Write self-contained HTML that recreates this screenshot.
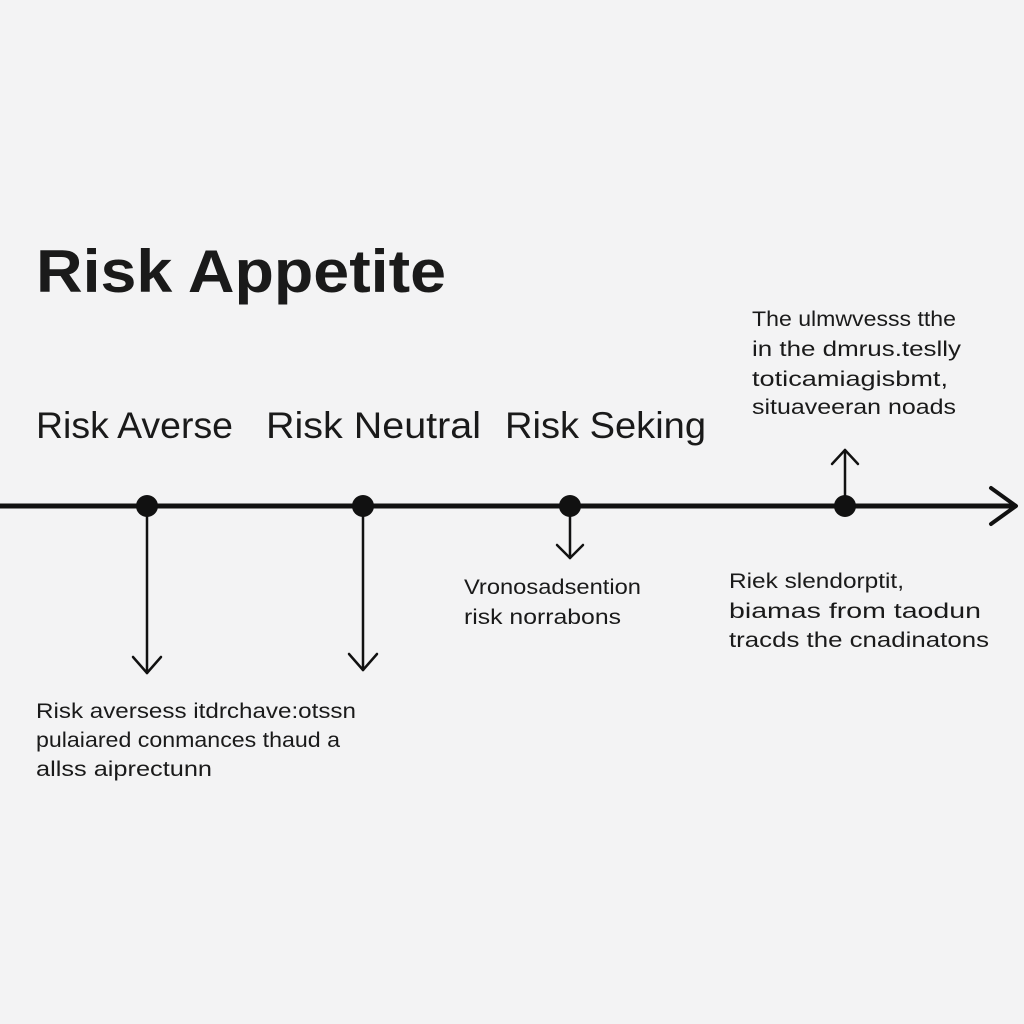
<!DOCTYPE html>
<html><head><meta charset="utf-8"><style>
body{margin:0;width:1024px;height:1024px;background:#f3f3f4;overflow:hidden}
svg{display:block}
text{font-family:"Liberation Sans",sans-serif;fill:#1a1a1a}
</style></head><body>
<svg width="1024" height="1024" viewBox="0 0 1024 1024">
<text x="36" y="292" font-size="60" font-weight="bold" fill="#111" textLength="410" lengthAdjust="spacingAndGlyphs">Risk Appetite</text>
<text x="36" y="438" font-size="37" textLength="197" lengthAdjust="spacingAndGlyphs">Risk Averse</text>
<text x="266" y="438" font-size="37" textLength="215" lengthAdjust="spacingAndGlyphs">Risk Neutral</text>
<text x="505" y="438" font-size="37" textLength="201" lengthAdjust="spacingAndGlyphs">Risk Seking</text>
<g font-size="21">
<text x="752" y="326" textLength="204" lengthAdjust="spacingAndGlyphs">The ulmwvesss tthe</text>
<text x="752" y="356" textLength="209" lengthAdjust="spacingAndGlyphs">in the dmrus.teslly</text>
<text x="752" y="386" textLength="196" lengthAdjust="spacingAndGlyphs">toticamiagisbmt,</text>
<text x="752" y="414" textLength="204" lengthAdjust="spacingAndGlyphs">situaveeran noads</text>
<text x="464" y="594" textLength="177" lengthAdjust="spacingAndGlyphs">Vronosadsention</text>
<text x="464" y="624" textLength="157" lengthAdjust="spacingAndGlyphs">risk norrabons</text>
<text x="729" y="588" textLength="175" lengthAdjust="spacingAndGlyphs">Riek slendorptit,</text>
<text x="729" y="618" textLength="252" lengthAdjust="spacingAndGlyphs">biamas from taodun</text>
<text x="729" y="647" textLength="260" lengthAdjust="spacingAndGlyphs">tracds the cnadinatons</text>
<text x="36" y="718" textLength="320" lengthAdjust="spacingAndGlyphs">Risk aversess itdrchave:otssn</text>
<text x="36" y="747" textLength="304" lengthAdjust="spacingAndGlyphs">pulaiared conmances thaud a</text>
<text x="36" y="776" textLength="176" lengthAdjust="spacingAndGlyphs">allss aiprectunn</text>
</g>
<g stroke="#111" fill="none" stroke-linecap="round" stroke-linejoin="round">
<line x1="0" y1="506" x2="1015" y2="506" stroke-width="5"/>
<polyline points="991,488 1016,506 991,524" stroke-width="4"/>
<line x1="147" y1="506" x2="147" y2="673" stroke-width="2.5"/>
<polyline points="133,657 147,673 161,657" stroke-width="2.5"/>
<line x1="363" y1="506" x2="363" y2="670" stroke-width="2.5"/>
<polyline points="349,654 363,670 377,654" stroke-width="2.5"/>
<line x1="570" y1="506" x2="570" y2="558" stroke-width="2.5"/>
<polyline points="557,545 570,558 583,545" stroke-width="2.5"/>
<line x1="845" y1="506" x2="845" y2="450" stroke-width="2.5"/>
<polyline points="832,464 845,450 858,464" stroke-width="2.5"/>
</g>
<g fill="#111">
<circle cx="147" cy="506" r="11"/>
<circle cx="363" cy="506" r="11"/>
<circle cx="570" cy="506" r="11"/>
<circle cx="845" cy="506" r="11"/>
</g>
</svg>
</body></html>
